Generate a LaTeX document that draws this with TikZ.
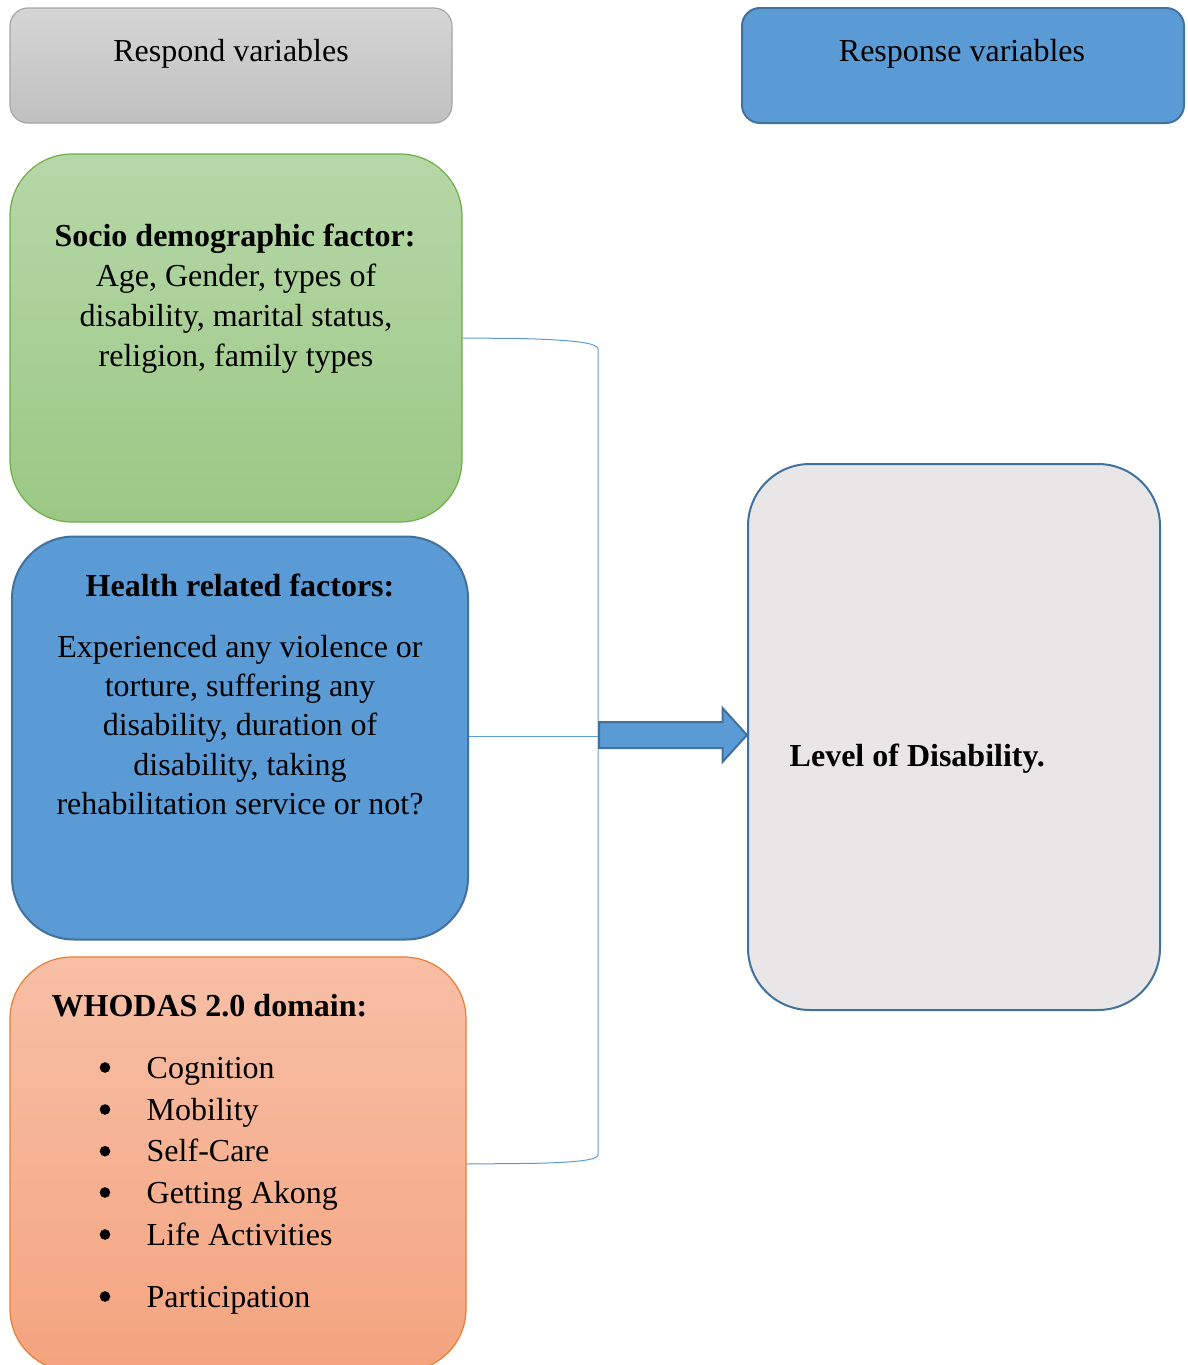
\documentclass[tikz,border=0pt]{standalone}
\usepackage{fontspec}
\setmainfont{Liberation Serif}
\usetikzlibrary{shadings}
\definecolor{gborder}{HTML}{A6A6A6}
\definecolor{gtop}{HTML}{D5D5D5}
\definecolor{gbot}{HTML}{C0C0C0}
\definecolor{bfill}{HTML}{5B9BD5}
\definecolor{bborder}{HTML}{41719C}
\definecolor{grtop}{HTML}{B6D7A8}
\definecolor{grbot}{HTML}{9BC884}
\definecolor{grborder}{HTML}{70AD47}
\definecolor{ortop}{HTML}{F7BFA6}
\definecolor{orbot}{HTML}{F4A47F}
\definecolor{orborder}{HTML}{ED7D31}
\definecolor{lgfill}{HTML}{E8E6E7}
\begin{document}
\begin{tikzpicture}[x=1pt,y=-1pt,
  txt/.style={font=\fontsize{32}{39}\selectfont, inner sep=0pt},
  btxt/.style={font=\fontsize{32}{39}\selectfont\bfseries, inner sep=0pt},
  box/.style={rectangle, inner sep=0pt, line width=1.2pt},
  link/.style={draw=bfill, line width=1pt}]
\useasboundingbox (0,0) rectangle (1188,1365);
\clip (0,0) rectangle (1188,1365);
% header boxes
\node[box, rounded corners=18pt, draw=gborder, top color=gtop, bottom color=gbot,
  minimum width=442, minimum height=115] (respond) at (231,65.5) {};
\node[box, rounded corners=18pt, draw=bborder, line width=2pt, fill=bfill,
  minimum width=442, minimum height=115] (response) at (963,65.5) {};
\node[txt, anchor=base] at (231,61.5) {Respond variables};
\node[txt, anchor=base] at (962,61.5) {Response variables};
% socio box
\node[box, rounded corners=62pt, draw=grborder, top color=grtop, bottom color=grbot,
  minimum width=452, minimum height=368] (socio) at (236,338) {};
\node[btxt, anchor=base] at (235,246.7) {Socio demographic factor:};
\node[txt, anchor=base] at (236,286.7) {Age, Gender, types of};
\node[txt, anchor=base] at (236,326.7) {disability, marital status,};
\node[txt, anchor=base] at (236,366.7) {religion, family types};
% health box
\node[box, rounded corners=62pt, draw=bborder, line width=2pt, fill=bfill,
  minimum width=456, minimum height=403] (health) at (240,738) {};
\node[btxt, anchor=base] at (240,596) {Health related factors:};
\node[txt, anchor=base] at (240,657.7) {Experienced any violence or};
\node[txt, anchor=base] at (240,696.7) {torture, suffering any};
\node[txt, anchor=base] at (240,735.7) {disability, duration of};
\node[txt, anchor=base] at (240,775) {disability, taking};
\node[txt, anchor=base] at (240,814) {rehabilitation service or not?};
% whodas box
\node[box, rounded corners=62pt, draw=orborder, top color=ortop, bottom color=orbot,
  minimum width=456, minimum height=414] (whodas) at (238,1164) {};
\node[btxt, anchor=base west] at (51.5,1016.7) {WHODAS 2.0 domain:};
\foreach \yy/\tt in {1078/Cognition, 1120/Mobility, 1161.7/Self-Care, 1203/Getting Akong, 1245/Life Activities, 1307/Participation}{
  \fill (105,\yy-10.5) circle (5.3pt);
  \node[txt, anchor=base west] at (146.5,\yy) {\tt};
}
% level box
\node[box, rounded corners=62pt, draw=bborder, line width=2pt, fill=lgfill,
  minimum width=412, minimum height=546] (level) at (954,737) {};
\node[btxt, anchor=base west] at (789.5,766.7) {Level of Disability.};
% bracket connector
\coordinate (jtop) at (598,349);
\coordinate (jmid) at (598,736);
\coordinate (jbot) at (598,1155);
\draw[link] (socio.east) -- (520,338.5) .. controls (575,340) and (598,343) .. (jtop)
  -- (jbot) .. controls (598,1160) and (575,1163) .. (520,1163.5) -- (whodas.east);
\draw[link] (health.east |- jmid) -- (jmid);
% block arrow
\coordinate (atip) at (level.west |- 0,735);
\draw[draw=bborder, line width=2pt, fill=bfill, line join=miter]
  (599,722) -- (722.5,722) -- (722.5,708) -- (atip) -- (722.5,762) -- (722.5,748) -- (599,748) -- cycle;
\end{tikzpicture}
\end{document}
